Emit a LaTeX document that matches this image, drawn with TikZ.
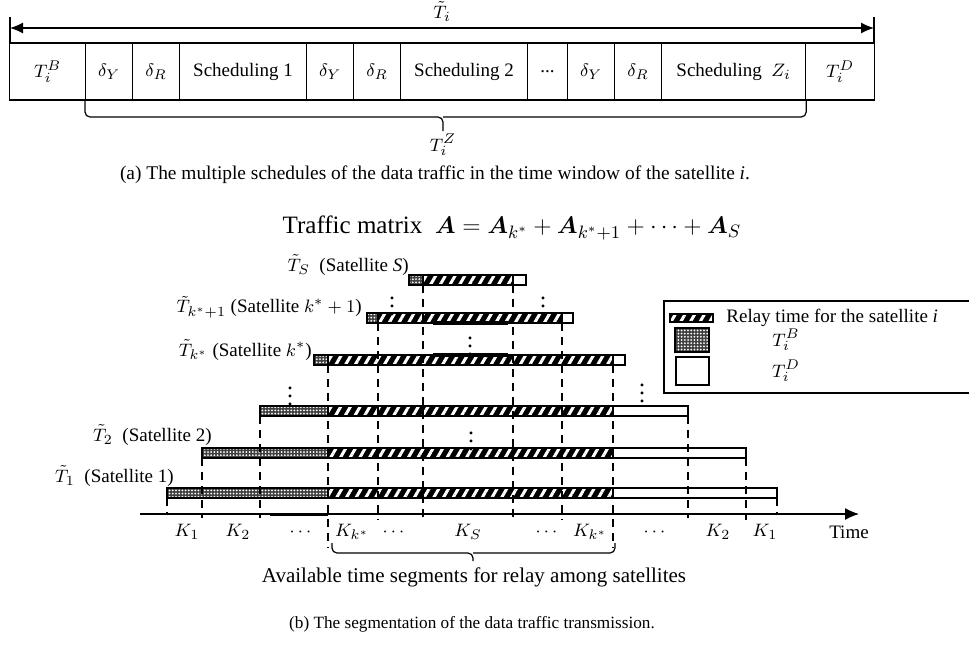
\documentclass[tikz,border=0pt]{standalone}
\usepackage{amsmath,amssymb}
\usepackage{bm}
\usepackage{fontspec}
\setmainfont{Liberation Serif}
\usetikzlibrary{calc,arrows.meta,patterns,patterns.meta}

\tikzset{
  cell/.style={draw,line width=0.6pt,minimum height=28.5pt,inner sep=0pt,anchor=west,font=\fontsize{9.5}{11}\selectfont},
  lab/.style={font=\fontsize{9.5}{11}\selectfont,inner sep=1pt},
  relay/.style={draw,line width=0.9pt,preaction={fill=black},pattern={Lines[angle=60,distance=4.2pt,line width=1.5pt]},pattern color=white},
  guard/.style={draw,line width=0.9pt,preaction={fill=black!75},pattern={Dots[distance=1.6pt,radius=0.5pt]},pattern color=white},
  spare/.style={draw,line width=0.9pt,fill=white},
  seg/.style={dash pattern=on 4pt off 3pt,line width=0.6pt},
}

\begin{document}
\begin{tikzpicture}[x=0.5pt,y=-0.5pt]
		\useasboundingbox (0,0) rectangle (969,644);
		% (a) time window of satellite i
		\foreach \a/\b/\t [count=\n] in {9/85/{$T_i^B$},85/132/{$\delta_Y$},132/179/{$\delta_R$},179/306/{Scheduling 1},306/353/{$\delta_Y$},353/400/{$\delta_R$},400/527/{Scheduling 2},527/567/{...},567/614/{$\delta_Y$},614/661/{$\delta_R$},661/805/{Scheduling\ \ $Z_i$},805/874/{$T_i^D$}}
		\node[cell,minimum width={(\b-\a)*0.5pt}] (c\n) at (\a,71.5) {\t};
		\coordinate (wl) at (10,28);
		\coordinate (wr) at (874,28);
		\draw[{Latex[length=6.5pt,width=5.5pt]}-{Latex[length=6.5pt,width=5.5pt]},line width=0.6pt] (wl) -- (wr) node[midway,above=2pt,lab] (Ti) {$\tilde{T}_i$};
		\draw[line width=0.6pt] (10,17) -- (10,43);
		\draw[line width=0.6pt] (874,17) -- (874,43);
		\draw[line width=0.6pt,rounded corners=2.5pt] (c2.south west) |- (443,117) -- (443,131);
		\draw[line width=0.6pt,rounded corners=2.5pt] (c11.south east) |- (443,117);
		\node[lab] (TiZ) at (443,145) {$T_i^Z$};
		\node[font=\fontsize{9.7}{11}\selectfont] (capa) at (435,175) {(a) The multiple schedules of the data traffic in the time window of the satellite \textit{i}.};
		% (b) segmentation
		\node[font=\fontsize{12.5}{14}\selectfont] (traffic) at (512,228) {Traffic matrix\ \ $\bm{A}=\bm{A}_{k^*}+\bm{A}_{k^*+1}+\cdots+\bm{A}_S$};
		\foreach \nm/\y/\a/\b/\c/\d in {1/493/167/328/613/777,2/453/202/328/613/746,m/411/260/328/613/688,k/360/314/328/613/625,kp/318/367/378/562/573,S/280/409/423/513/526}{
			\draw[guard] (\a,\y-5) rectangle (\b,\y+5);
			\draw[relay] (\b,\y-5) rectangle (\c,\y+5);
			\draw[spare] (\c,\y-5) rectangle (\d,\y+5);
		}
		\draw[line width=1.6pt] (433,323) -- (508,323);
		\draw[line width=1.6pt] (433,355) -- (508,355);
		\foreach \x/\ya/\yb in {167/498/514,202/458/518,260/416/518,328/365/548,378/323/520,423/285/520,513/285/520,562/323/520,613/365/548,688/416/518,746/458/520,777/498/514}
		\draw[seg] (\x,\ya) -- (\x,\yb);
		\node[lab,anchor=east] (nS) at (411,265) {$\tilde{T}_S$\ \ (Satellite \textit{S})};
		\node[lab,anchor=east] (nkp) at (364,307) {$\tilde{T}_{k^*+1}$ (Satellite $k^*+1$)};
		\node[lab,anchor=east] (nk) at (314,350) {$\tilde{T}_{k^*}$ (Satellite $k^*$)};
		\node[lab,anchor=east] (n2) at (214,435) {$\tilde{T}_2$\ \ (Satellite 2)};
		\node[lab,anchor=east] (n1) at (176,476) {$\tilde{T}_1$\ \ (Satellite 1)};
		\foreach \x/\y [count=\n] in {392/300,543/300,470/340,290/390,642/387,471/435}
		\node[font=\fontsize{12}{13}\selectfont,inner sep=0pt] (vd\n) at (\x,\y) {$\vdots$};
		% time axis
		\coordinate (t0) at (140,514);
		\coordinate (t1) at (859,514);
		\draw[-{Latex[length=7pt,width=6pt]},line width=0.6pt] (t0) -- (t1);
		\draw[line width=1.5pt] (270,514) -- (328,514);
		\node[lab] (time) at (849,532) {Time};
		\foreach \x/\t [count=\n] in {187/{$K_1$},238/{$K_2$},302/{$\cdots$},352/{$K_{k^*}$},395/{$\cdots$},468/{$K_S$},548/{$\cdots$},590/{$K_{k^*}$},656/{$\cdots$},718/{$K_2$},765/{$K_1$}}
		\node[lab] (k\n) at (\x,532) {\t};
		\draw[line width=0.6pt,rounded corners=2.5pt] (332,543) |- (473,553) -- (473,561);
		\draw[line width=0.6pt,rounded corners=2.5pt] (615,543) |- (473,553);
		\node[font=\fontsize{10.5}{12}\selectfont] (avail) at (474,577) {Available time segments for relay among satellites};
		\node[font=\fontsize{8.6}{10}\selectfont] (capb) at (472,624) {(b) The segmentation of the data traffic transmission.};
		% legend
		\draw[line width=0.8pt] (664,301) rectangle (980,393);
		\draw[relay] (670,314) rectangle (713,322);
		\node[lab,anchor=west] (lgr) at (724,318) {Relay time for the satellite \textit{i}};
		\draw[guard] (675,328) rectangle (709,352);
		\node[lab] (lgb) at (786,340) {$T_i^B$};
		\draw[spare,line width=1.1pt] (676,357) rectangle (709,385);
		\node[lab] (lgd) at (786,371) {$T_i^D$};
	\end{tikzpicture}
\end{document}
